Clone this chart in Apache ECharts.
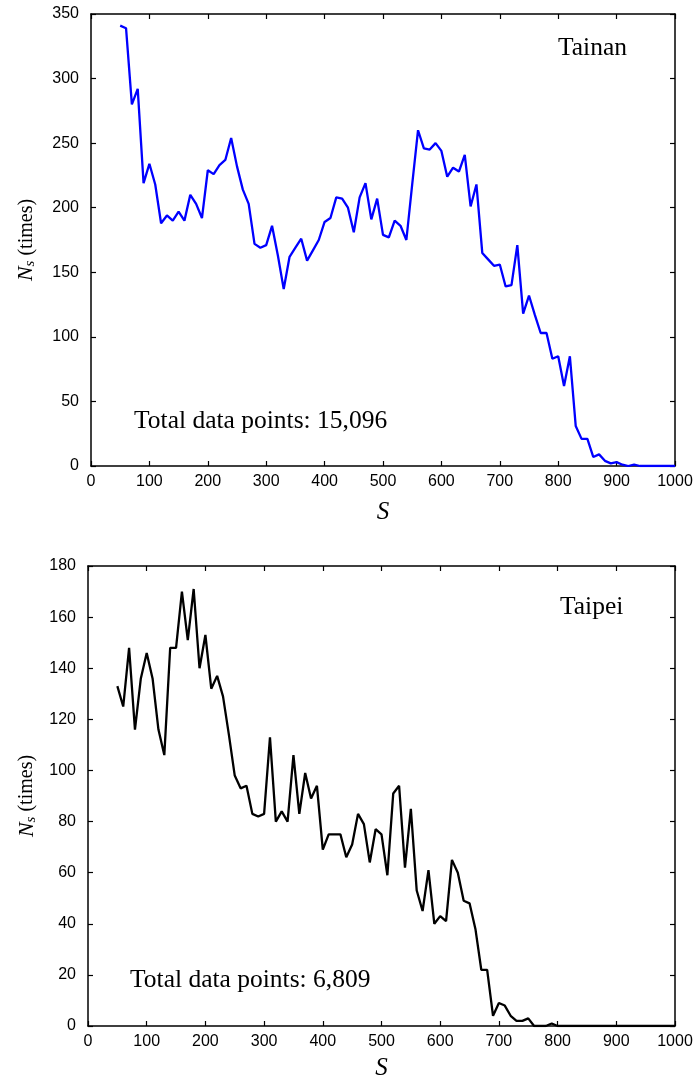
<!DOCTYPE html>
<html>
<head>
<meta charset="utf-8">
<script src="https://cdn.jsdelivr.net/npm/echarts@6/dist/echarts.min.js"></script>
<style>
  html, body { margin: 0; padding: 0; background: #fff; }
  #chart { width: 697px; height: 1085px; }
</style>
</head>
<body>
<div id="chart"></div>
<script>
// --- data ---
const sValues = [
  50, 60, 70, 80, 90, 100, 110, 120, 130, 140, 150, 160, 170, 180, 190, 200,
  210, 220, 230, 240, 250, 260, 270, 280, 290, 300, 310, 320, 330, 340, 350, 360,
  370, 380, 390, 400, 410, 420, 430, 440, 450, 460, 470, 480, 490, 500, 510, 520,
  530, 540, 550, 560, 570, 580, 590, 600, 610, 620, 630, 640, 650, 660, 670, 680,
  690, 700, 710, 720, 730, 740, 750, 760, 770, 780, 790, 800, 810, 820, 830, 840,
  850, 860, 870, 880, 890, 900, 910, 920, 930, 940, 950, 960, 970, 980, 990, 1000
];

const tainanNs = [
  341, 339, 280, 292, 219, 234, 218, 188, 194, 190, 197, 190, 210, 203, 192, 229,
  226, 233, 237, 254, 232, 214, 203, 172, 169, 171, 186, 163, 137, 162, 169, 176,
  159, 167, 175, 189, 192, 208, 207, 200, 181, 208, 219, 191, 207, 179, 177, 190,
  186, 175, 218, 260, 246, 245, 250, 244, 224, 231, 228, 241, 201, 218, 165, 160,
  155, 156, 139, 140, 171, 118, 132, 117, 103, 103, 83, 85, 62, 85, 31, 21,
  21, 7, 9, 4, 2, 3, 1, 0, 1, 0, 0, 0, 0, 0, 0, 0
];

const taipeiNs = [
  133, 125, 148, 116, 136, 146, 136, 116, 106, 148, 148, 170, 151, 171, 140, 153,
  132, 137, 129, 114, 98, 93, 94, 83, 82, 83, 113, 80, 84, 80, 106, 83,
  99, 89, 94, 69, 75, 75, 75, 66, 71, 83, 79, 64, 77, 75, 59, 91,
  94, 62, 85, 53, 45, 61, 40, 43, 41, 65, 60, 49, 48, 38, 22, 22,
  4, 9, 8, 4, 2, 2, 3, 0, 0, 0, 1, 0, 0, 0, 0, 0,
  0, 0, 0, 0, 0, 0, 0, 0, 0, 0, 0, 0, 0, 0, 0, 0
];

const panels = [
  { city: 'Tainan', total: 'Total data points: 15,096', yMax: 350, yStep: 50, color: '#0000ff' },
  { city: 'Taipei', total: 'Total data points: 6,809', yMax: 180, yStep: 20, color: '#000000' }
];

// --- layout ---
const grids = [
  { left: 91, top: 14, right: 22, height: 452 },
  { left: 88, top: 566, right: 22, height: 460 }
];

const tickFont = { fontFamily: '"Liberation Sans", Arial, sans-serif', fontSize: 16, color: '#000' };
const axisLine = { show: true, onZero: false, lineStyle: { color: '#000', width: 1.5 } };
const inTick = { show: true, inside: true, length: 5, lineStyle: { color: '#000', width: 1.2 } };

const xAxes = [], yAxes = [], series = [];

panels.forEach((p, i) => {
  // bottom x axis with labels
  xAxes.push({
    type: 'value', gridIndex: i, min: 0, max: 1000, interval: 100,
    axisLine, axisTick: inTick, splitLine: { show: false },
    axisLabel: { ...tickFont, margin: 8, formatter: v => String(v) },
    name: 'S', nameLocation: 'middle', nameGap: i === 0 ? 34 : 30,
    nameTextStyle: { fontFamily: '"Liberation Serif", "Times New Roman", serif', fontStyle: 'italic', fontSize: 25, color: '#000' }
  });
  // top frame
  xAxes.push({
    type: 'value', gridIndex: i, position: 'top', min: 0, max: 1000, interval: 100,
    axisLine, axisTick: inTick, splitLine: { show: false }, axisLabel: { show: false }
  });
  // left y axis with labels
  yAxes.push({
    type: 'value', gridIndex: i, min: 0, max: p.yMax, interval: p.yStep,
    axisLine, axisTick: inTick, splitLine: { show: false },
    axisLabel: { ...tickFont, margin: 12 },
    name: '{n|N}{s|s}{t| (times)}', nameLocation: 'middle', nameRotate: 90, nameGap: i === 0 ? 53 : 49,
    nameTextStyle: {
      color: '#000',
      rich: {
        n: { fontFamily: '"Liberation Serif", serif', fontStyle: 'italic', fontSize: 22, color: '#000' },
        s: { fontFamily: '"Liberation Serif", serif', fontStyle: 'italic', fontSize: 15, color: '#000', verticalAlign: 'bottom', padding: [8, 0, 0, 0] },
        t: { fontFamily: '"Liberation Serif", serif', fontSize: 20, color: '#000' }
      }
    }
  });
  // right frame
  yAxes.push({
    type: 'value', gridIndex: i, position: 'right', min: 0, max: p.yMax, interval: p.yStep,
    axisLine, axisTick: inTick, splitLine: { show: false }, axisLabel: { show: false }
  });

  const vals = i === 0 ? tainanNs : taipeiNs;
  series.push({
    type: 'line', xAxisIndex: i * 2, yAxisIndex: i * 2,
    data: sValues.map((s, k) => [s, vals[k]]),
    showSymbol: false, symbol: 'none',
    lineStyle: { color: p.color, width: 2.3 },
    animation: false
  });
});

const serif = '25.5px "Liberation Serif", "Times New Roman", serif';
const chart = echarts.init(document.getElementById('chart'));
chart.setOption({
  animation: false,
  backgroundColor: '#fff',
  grid: grids,
  xAxis: xAxes,
  yAxis: yAxes,
  series,
  graphic: [
    { type: 'text', x: 558, y: 48, style: { text: panels[0].city, font: serif, fill: '#000', verticalAlign: 'middle' } },
    { type: 'text', x: 134, y: 421, style: { text: panels[0].total, font: serif, fill: '#000', verticalAlign: 'middle' } },
    { type: 'text', x: 560, y: 607, style: { text: panels[1].city, font: serif, fill: '#000', verticalAlign: 'middle' } },
    { type: 'text', x: 130, y: 980, style: { text: panels[1].total, font: serif, fill: '#000', verticalAlign: 'middle' } }
  ]
});
</script>
</body>
</html>
